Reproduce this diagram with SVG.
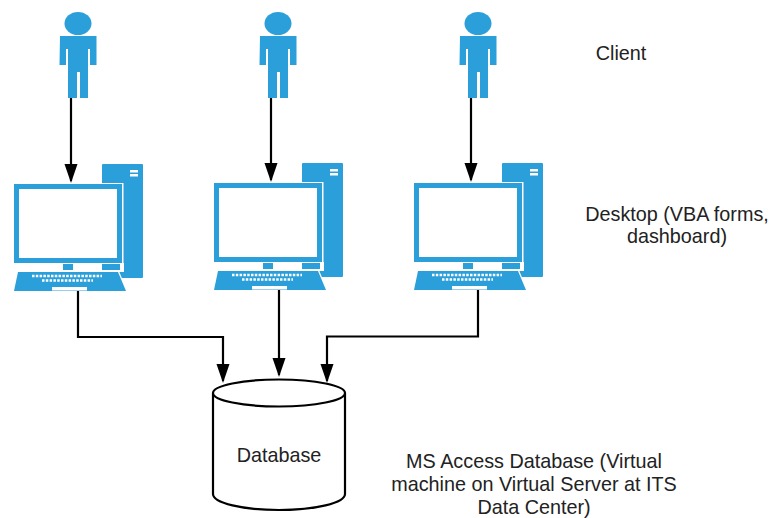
<svg xmlns="http://www.w3.org/2000/svg" width="770" height="518" viewBox="0 0 770 518">
<style>
.b{fill:#2b9fd9}
.w{fill:#fff}
.c{fill:none;stroke:#000;stroke-width:2.2}
text{font-family:"Liberation Sans",Arial,sans-serif;font-size:19.8px;fill:#222;text-anchor:middle}
</style>
<defs>
<marker id="a" markerUnits="userSpaceOnUse" markerWidth="20" markerHeight="14" refX="17" refY="6.500" orient="auto"><path d="M0 0L19 6.500L0 13z" fill="#000"/></marker>
<g id="person"><ellipse class="b" cx="78" cy="23.500" rx="13.500" ry="11.500"/><path class="b" d="M60 36H96.500V65H90V49H88V98H80V72H77V98H68V49H66V65H59.500z"/></g>
<g id="pc">
<rect class="b" x="102" y="164" width="41" height="114" rx="1"/>
<rect class="w" x="130" y="170" width="8" height="2.500"/><rect class="w" x="130" y="174" width="8" height="2.500"/>
<rect class="w" x="13" y="183" width="110.500" height="81"/>
<rect class="b" x="14" y="184" width="108" height="79"/>
<rect class="w" x="19" y="189" width="98" height="69"/>
<rect class="w" x="60" y="263" width="64" height="9"/>
<rect class="b" x="63" y="264" width="10" height="6"/>
<rect class="b" x="102" y="264" width="18" height="6"/>
<path class="w" d="M17 271H119L127.500 292H13z"/>
<path class="b" d="M18 272H118L126 291H14z"/>
<path d="M32 276H102M42 280.500H93" stroke="#fff" stroke-width="2.500" stroke-dasharray="2.500 1.300" fill="none"/>
<rect class="w" x="52" y="287" width="35" height="3.500"/>
</g>
</defs>
<rect width="770" height="518" fill="#fff"/>
<g id="client-1"><use href="#person"/></g>
<g id="client-2"><use href="#person" x="200"/></g>
<g id="client-3"><use href="#person" x="400"/></g>
<g id="desktop-1"><use href="#pc"/></g>
<g id="desktop-2"><use href="#pc" x="200" y="-1"/></g>
<g id="desktop-3"><use href="#pc" x="400" y="-1"/></g>
<g id="database">
<path d="M213 393V494C213 503 243 510 279 510S345 503 345 494V393" fill="#fff" stroke="#000" stroke-width="2.200"/>
<ellipse cx="279" cy="393" rx="66" ry="13.500" fill="#fff" stroke="#000" stroke-width="2.200"/>
<text x="279" y="462">Database</text>
</g>
<g id="connectors">
<path class="c" d="M71 98V181" marker-end="url(#a)"/>
<path class="c" d="M271 98V180" marker-end="url(#a)"/>
<path class="c" d="M471 98V180" marker-end="url(#a)"/>
<path class="c" d="M78 291V337H223V381" marker-end="url(#a)"/>
<path class="c" d="M279 290V375" marker-end="url(#a)"/>
<path class="c" d="M478 290V336.500H327V381" marker-end="url(#a)"/>
</g>
<g id="labels">
<text x="621" y="60">Client</text>
<text x="677" y="221">Desktop (VBA forms,</text>
<text x="677" y="243">dashboard)</text>
<text x="534" y="468">MS Access Database (Virtual</text>
<text x="534" y="491">machine on Virtual Server at ITS</text>
<text x="534" y="514">Data Center)</text>
</g>
</svg>
